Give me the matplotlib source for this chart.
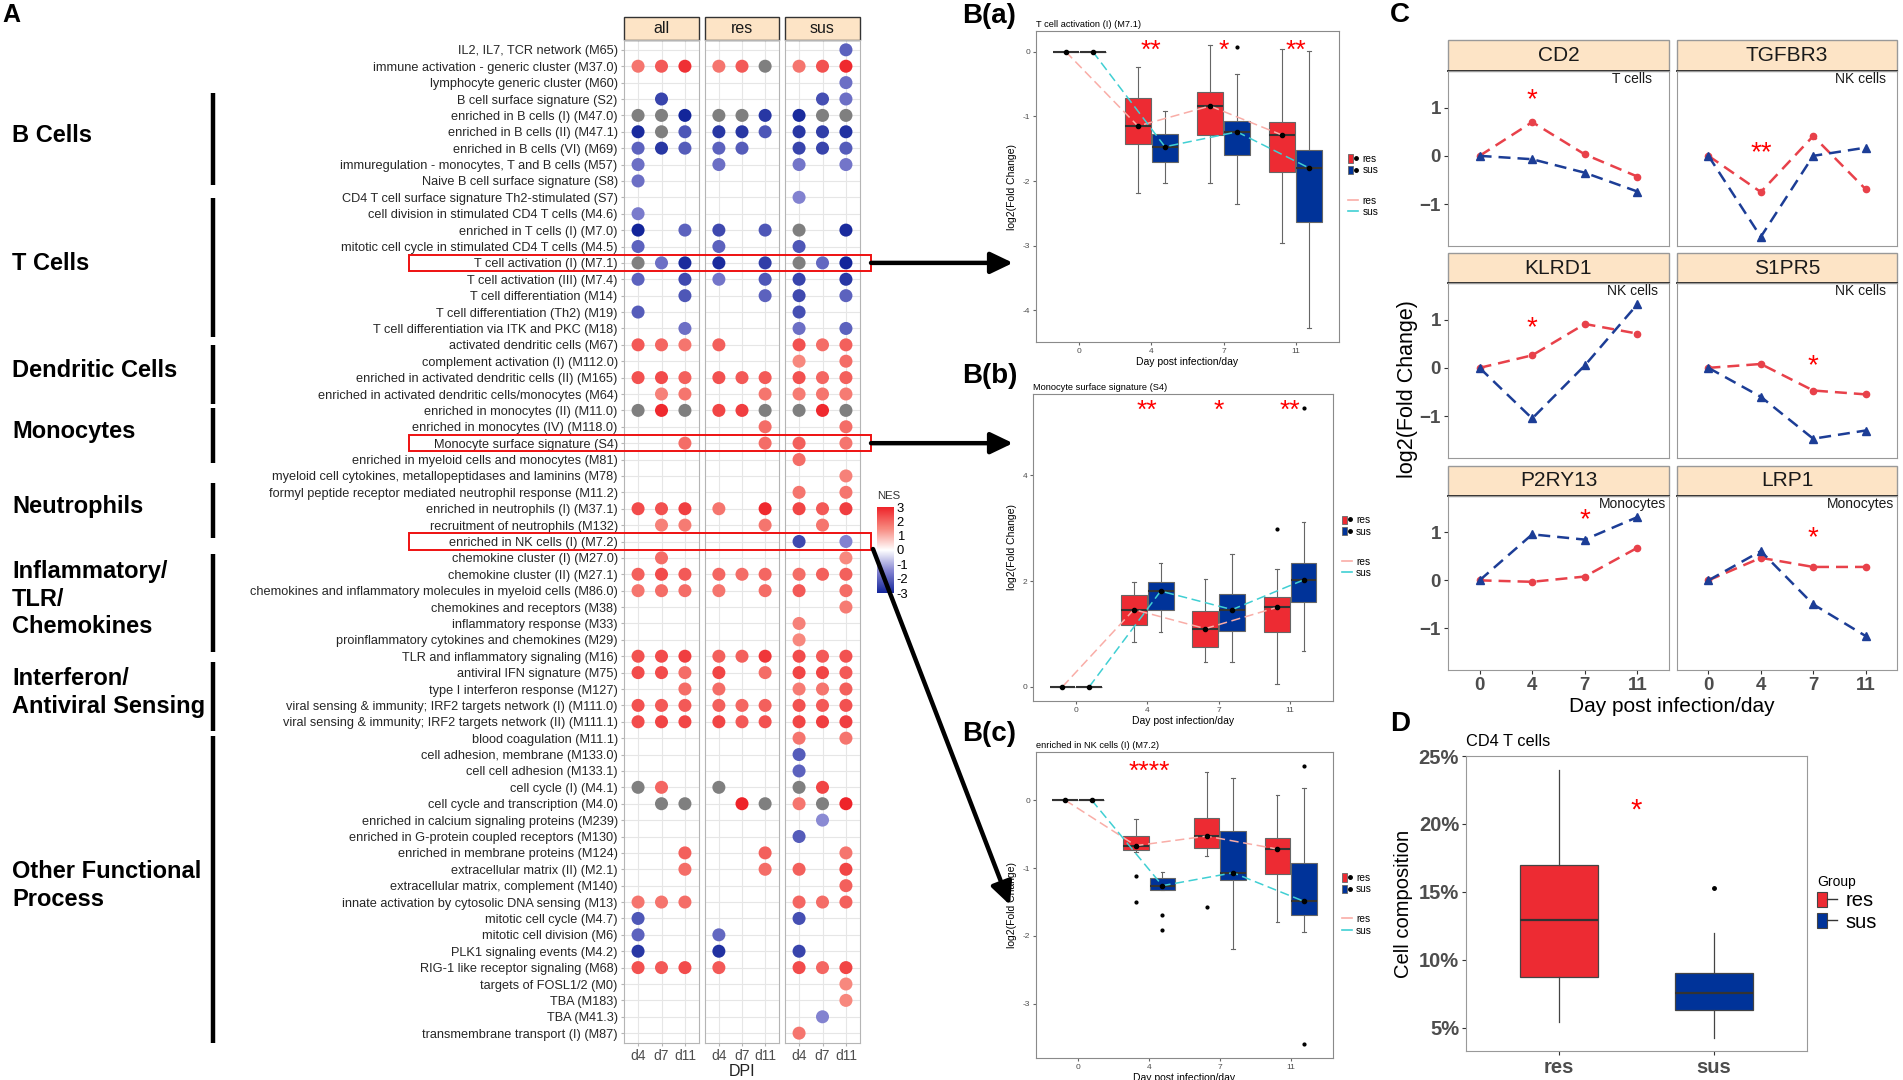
import numpy as np
import matplotlib
matplotlib.use('Agg')
import matplotlib.pyplot as plt
from matplotlib.colors import LinearSegmentedColormap, Normalize
from matplotlib.cm import ScalarMappable
from matplotlib.patches import Rectangle, Patch
from matplotlib.lines import Line2D
from matplotlib.legend_handler import HandlerTuple

plt.rcParams['font.family'] = ['Liberation Sans', 'DejaVu Sans']

W, H = 1903, 1080

# ---------------- panel A: NES of blood transcription modules ----------------
N = np.nan          # module not enriched -> no dot
G = 9.9             # NES off the colour scale -> grey dot
NN = (N, N, N)

facets = ['all', 'res', 'sus']
dpi_labels = ['d4', 'd7', 'd11']

modules = [
    "IL2, IL7, TCR network (M65)",
    "immune activation - generic cluster (M37.0)",
    "lymphocyte generic cluster (M60)",
    "B cell surface signature (S2)",
    "enriched in B cells (I) (M47.0)",
    "enriched in B cells (II) (M47.1)",
    "enriched in B cells (VI) (M69)",
    "immuregulation - monocytes, T and B cells (M57)",
    "Naive B cell surface signature (S8)",
    "CD4 T cell surface signature Th2-stimulated (S7)",
    "cell division in stimulated CD4 T cells (M4.6)",
    "enriched in T cells (I) (M7.0)",
    "mitotic cell cycle in stimulated CD4 T cells (M4.5)",
    "T cell activation (I) (M7.1)",
    "T cell activation (III) (M7.4)",
    "T cell differentiation (M14)",
    "T cell differentiation (Th2) (M19)",
    "T cell differentiation via ITK and PKC (M18)",
    "activated dendritic cells (M67)",
    "complement activation (I) (M112.0)",
    "enriched in activated dendritic cells (II) (M165)",
    "enriched in activated dendritic cells/monocytes (M64)",
    "enriched in monocytes (II) (M11.0)",
    "enriched in monocytes (IV) (M118.0)",
    "Monocyte surface signature (S4)",
    "enriched in myeloid cells and monocytes (M81)",
    "myeloid cell cytokines, metallopeptidases and laminins (M78)",
    "formyl peptide receptor mediated neutrophil response (M11.2)",
    "enriched in neutrophils (I) (M37.1)",
    "recruitment of neutrophils (M132)",
    "enriched in NK cells (I) (M7.2)",
    "chemokine cluster (I) (M27.0)",
    "chemokine cluster (II) (M27.1)",
    "chemokines and inflammatory molecules in myeloid cells (M86.0)",
    "chemokines and receptors (M38)",
    "inflammatory response (M33)",
    "proinflammatory cytokines and chemokines (M29)",
    "TLR and inflammatory signaling (M16)",
    "antiviral IFN signature (M75)",
    "type I interferon response (M127)",
    "viral sensing & immunity; IRF2 targets network (I) (M111.0)",
    "viral sensing & immunity; IRF2 targets network (II) (M111.1)",
    "blood coagulation (M11.1)",
    "cell adhesion, membrane (M133.0)",
    "cell cell adhesion (M133.1)",
    "cell cycle (I) (M4.1)",
    "cell cycle and transcription (M4.0)",
    "enriched in calcium signaling proteins (M239)",
    "enriched in G-protein coupled receptors (M130)",
    "enriched in membrane proteins (M124)",
    "extracellular matrix (II) (M2.1)",
    "extracellular matrix, complement (M140)",
    "innate activation by cytosolic DNA sensing (M13)",
    "mitotic cell cycle (M4.7)",
    "mitotic cell division (M6)",
    "PLK1 signaling events (M4.2)",
    "RIG-1 like receptor signaling (M68)",
    "targets of FOSL1/2 (M0)",
    "TBA (M183)",
    "TBA (M41.3)",
    "transmembrane transport (I) (M87)",
]

# columns: d4, d7, d11
nes_all = [
    NN, (1.8, 2.2, 2.8), NN, (N, -2.5, N), (G, G, -3.0), (-2.9, G, -2.2),
    (-2.0, -2.7, -2.1), (-1.8, N, N), (-1.8, N, N), NN, (-1.6, N, N),
    (-3.0, N, -2.0), (-2.0, N, N), (G, -1.8, -2.9), (-2.0, N, -2.4),
    (N, N, -2.2), (-2.1, N, N), (N, N, -1.8), (2.2, 2.0, 1.8), NN,
    (2.3, 2.4, 2.1), (N, 1.6, 1.8), (G, 2.9, G), NN, (N, N, 1.9), NN, NN, NN,
    (2.4, 2.3, 2.6), (N, 1.6, 1.7), NN, (N, 1.9, N), (2.1, 2.4, 2.2),
    (1.8, 1.9, 1.9), NN, NN, NN, (2.3, 2.4, 2.6), (2.4, 2.4, 1.9), (N, N, 1.9),
    (2.3, 2.2, 2.2), (2.4, 2.5, 2.5), NN, NN, NN, (G, 2.0, N), (N, G, G),
    NN, NN, (N, N, 2.1), (N, N, 1.9), NN, (1.8, 1.8, 1.9), (-2.2, N, N),
    (-2.0, N, N), (-2.7, N, N), (2.3, 2.2, 2.4), NN, NN, NN, NN,
]
nes_res = [
    NN, (1.8, 2.2, G), NN, NN, (G, G, -2.7), (-2.7, -2.7, -2.2),
    (-2.0, -2.1, N), (-1.8, N, N), NN, NN, NN,
    (-2.4, N, -2.2), (-2.0, N, N), (-2.9, N, -2.6), (-1.7, N, -2.2),
    (N, N, -2.0), NN, NN, (2.1, N, N), NN,
    (2.3, 2.2, 2.2), (N, N, 1.8), (2.5, 2.6, G), (N, N, 1.9), (N, N, 1.9), NN, NN, NN,
    (1.8, N, 2.9), (N, N, 1.8), NN, NN, (2.0, 1.9, 2.0),
    (1.8, N, 1.9), NN, NN, NN, (2.1, 2.1, 2.7), (2.5, N, 1.9), (1.9, N, N),
    (2.1, 2.0, 2.1), (2.5, 2.2, 2.3), NN, NN, NN, (G, N, N), (N, 3.0, G),
    NN, NN, (N, N, 2.1), (N, N, 1.9), NN, NN, NN,
    (-1.9, N, N), (-2.8, N, N), (2.2, N, N), NN, NN, NN, NN,
]
nes_sus = [
    (N, N, -2.0), (1.8, 2.3, 2.9), (N, N, -1.8), (N, -2.3, -1.8), (-2.9, G, G),
    (-2.7, -2.6, -2.8), (-2.5, -2.5, -2.1), (-1.7, N, -1.7), NN, (-1.5, N, N), NN,
    (G, N, -2.9), (-2.2, N, N), (G, -1.9, -3.0), (-2.5, N, -2.7),
    (-2.4, N, -2.0), (-2.3, N, N), (-1.8, N, -2.0), (2.3, 1.9, 2.1), (1.5, N, 1.9),
    (2.3, 2.0, 2.1), (1.7, 1.8, 1.7), (G, 2.9, G), (N, N, 1.9), (2.1, N, 1.8),
    (1.9, N, N), (N, N, 1.6), (1.8, N, 1.8),
    (2.5, 2.2, 2.6), (N, 1.8, N), (-2.4, N, -1.5), (N, N, 1.5), (1.9, 2.1, 2.1),
    (2.2, N, 1.9), (N, N, 1.7), (1.6, N, N), (1.5, N, N), (2.4, 2.2, 2.3),
    (2.5, 2.5, 2.2), (1.7, 1.8, 2.1),
    (2.3, 2.2, 2.3), (2.5, 2.6, 2.6), (1.8, N, 1.8), (-2.1, N, N), (-2.0, N, N),
    (G, 2.5, N), (1.8, G, 3.0),
    (N, -1.4, N), (-2.1, N, N), (N, N, 1.8), (2.1, N, 2.5), (N, N, 2.1),
    (2.0, 1.9, 2.1), (-2.3, N, N),
    NN, (-2.5, N, N), (2.4, 2.0, 2.5), (N, N, 1.5), (N, N, 1.5), (N, -1.5, N),
    (1.8, N, N),
]

group_labels = ['B Cells', 'T Cells', 'Dendritic Cells', 'Monocytes', 'Neutrophils',
                'Inflammatory/\nTLR/\nChemokines', 'Interferon/\nAntiviral Sensing',
                'Other Functional\nProcess']
group_spans = [(93, 185), (198, 337), (345, 404), (408, 463), (483, 538),
               (554, 652), (662, 731), (736, 1043)]
boxed_rows = [14, 25, 31]

# ---------------- panel B: module scores per day ----------------
days = ['0', '4', '7', '11']
# (whisker low, q1, median, q3, whisker high)
ba_res = [(0, 0, 0, 0, 0), (-2.19, -1.43, -1.15, -0.71, -0.23),
          (-2.03, -1.29, -0.84, -0.62, 0.11), (-2.96, -1.86, -1.29, -1.08, 0.04)]
ba_sus = [(0, 0, 0, 0, 0), (-2.03, -1.71, -1.47, -1.28, -0.92),
          (-2.35, -1.60, -1.24, -1.07, -0.34), (-4.28, -2.64, -1.80, -1.52, 0.01)]
ba_res_out = [[], [], [], []]
ba_sus_out = [[], [], [0.08], []]
ba_stars = ['', '**', '*', '**']

bb_res = [(0, 0, 0, 0, 0), (0.84, 1.17, 1.46, 1.73, 1.99),
          (0.47, 0.75, 1.10, 1.44, 2.03), (0.06, 1.03, 1.50, 1.70, 2.23)]
bb_sus = [(0, 0, 0, 0, 0), (1.04, 1.45, 1.81, 1.99, 2.35),
          (0.47, 1.05, 1.46, 1.75, 2.51), (0.68, 1.60, 2.02, 2.35, 3.11)]
bb_res_out = [[], [], [], [2.98]]
bb_sus_out = [[], [], [], [5.28]]
bb_stars = ['', '**', '*', '**']

bc_res = [(0, 0, 0, 0, 0), (-0.77, -0.74, -0.67, -0.53, -0.28),
          (-0.83, -0.70, -0.53, -0.26, 0.41), (-1.80, -1.09, -0.72, -0.56, 0.07)]
bc_sus = [(0, 0, 0, 0, 0), (-1.33, -1.33, -1.26, -1.15, -1.06),
          (-2.19, -1.18, -1.07, -0.45, 0.32), (-1.94, -1.69, -1.49, -0.92, 0.18)]
bc_res_out = [[], [-1.12, -1.50], [-1.58], []]
bc_sus_out = [[], [-1.69, -1.92], [], [0.51, -3.60]]
bc_stars = ['', '****', '', '']

# ---------------- panel C: single genes ----------------
genes = ['CD2', 'TGFBR3', 'KLRD1', 'S1PR5', 'P2RY13', 'LRP1']
cell_types = ['T cells', 'NK cells', 'NK cells', 'NK cells', 'Monocytes', 'Monocytes']
c_res = [[0, 0.70, 0.03, -0.43], [0, -0.75, 0.41, -0.69], [0, 0.26, 0.91, 0.71],
         [0, 0.08, -0.47, -0.55], [0, -0.03, 0.08, 0.68], [0, 0.47, 0.28, 0.28]]
c_sus = [[0, -0.07, -0.35, -0.74], [0, -1.68, 0.0, 0.17], [0, -1.05, 0.05, 1.32],
         [0, -0.60, -1.47, -1.30], [0, 0.96, 0.85, 1.32], [0, 0.61, -0.50, -1.16]]
c_stars = ['*', '**', '*', '*', '*', '*']
c_star_day = [1, 1, 1, 2, 2, 2]
c_star_y = [1.29, 0.19, 0.95, 0.16, 1.38, 1.02]

# ---------------- panel D: CD4 T cell composition ----------------
d_groups = ['res', 'sus']
d_res = (5.44, 8.73, 12.94, 17.0, 24.0)
d_sus = (4.29, 6.32, 7.55, 9.02, 12.0)
d_sus_out = [15.3]

RED = '#ED2B33'
BLUE = '#003399'
PINK = '#F9ADA7'
CYAN = '#40CFD3'
PEACH = '#FDE4C6'
C_RED = '#E8414A'
C_BLUE = '#1C3D96'


def px_rect(x0, y0, x1, y1):
    return [x0 / W, 1 - y1 / H, (x1 - x0) / W, (y1 - y0) / H]


fig = plt.figure(figsize=(W / 100, H / 100), dpi=100)

# ---- panel A ----
A_X = [(624, 699), (705, 779), (785, 860)]
A_Y0, A_Y1, A_STRIP = 40, 1043, 17
nrow = len(modules)
ROW_H = (A_Y1 - A_Y0) / (nrow + 0.2)

cmap = LinearSegmentedColormap.from_list(
    'nes', [(0, '#13259a'), (0.25, '#8282d0'), (0.5, '#ffffff'),
            (0.75, '#f7897f'), (1, '#ee2329')])
cmap.set_over('#7f7f7f')
cmap.set_under('#7f7f7f')
norm = Normalize(-3, 3)

for k, (name, vals) in enumerate(zip(facets, (nes_all, nes_res, nes_sus))):
    ax = fig.add_axes(px_rect(A_X[k][0], A_Y0, A_X[k][1], A_Y1))
    v = np.array(vals, dtype=float)
    r, c = np.nonzero(~np.isnan(v))
    ax.scatter(c + 1, r + 1, c=v[r, c], cmap=cmap, norm=norm, s=88,
               linewidths=0, zorder=3)
    ax.set_xlim(0.4, 3.6)
    ax.set_ylim(nrow + 0.6, 0.4)
    ax.set_xticks([1, 2, 3], dpi_labels)
    ax.set_yticks(np.arange(1, nrow + 1))
    ax.grid(True, color='#e6e6e6', lw=0.8)
    ax.set_axisbelow(True)
    for s in ax.spines.values():
        s.set_color('#b5b5b5')
        s.set_linewidth(0.8)
    ax.tick_params(axis='x', length=2.5, color='#b5b5b5', labelsize=10,
                   labelcolor='#4d4d4d', pad=1.5)
    if k == 0:
        ax.set_yticklabels(modules, fontsize=9.2, color='#262626')
        ax.tick_params(axis='y', length=2.5, color='#b5b5b5', pad=2)
    else:
        ax.tick_params(axis='y', length=0, labelleft=False)
    sh = (A_Y0 - A_STRIP) / (A_Y1 - A_Y0)
    ax.add_patch(Rectangle((0, 1), 1, sh, transform=ax.transAxes, clip_on=False,
                           fc=PEACH, ec='#333333', lw=1))
    ax.text(0.5, 1 + sh / 2, name, transform=ax.transAxes, ha='center',
            va='center', fontsize=11.5, color='#1a1a1a')

fig.text(742 / W, 1 - 1071 / H, 'DPI', ha='center', va='center',
         fontsize=11.5, color='#222222')

cax = fig.add_axes(px_rect(877, 507, 894, 593))
cb = fig.colorbar(ScalarMappable(norm=norm, cmap=cmap), cax=cax,
                  ticks=[-3, -2, -1, 0, 1, 2, 3])
cb.outline.set_visible(False)
cb.ax.set_yticklabels([str(t) for t in [-3, -2, -1, 0, 1, 2, 3]])
cax.tick_params(length=0, labelsize=9.4, pad=2)


# ---- panel B ----
def box_panel(rect, title, res, sus, res_out, sus_out, stars, star_y, ylim, yticks):
    ax = fig.add_axes(px_rect(*rect))
    pos = np.arange(1, len(days) + 1)
    for stats, outs, off, fc, lc in ((res, res_out, -0.1875, RED, PINK),
                                     (sus, sus_out, 0.1875, BLUE, CYAN)):
        bx = [dict(whislo=s[0], q1=s[1], med=s[2], q3=s[3], whishi=s[4], fliers=o)
              for s, o in zip(stats, outs)]
        ax.bxp(bx, positions=pos + off, widths=0.36, patch_artist=True,
               capwidths=0.05, manage_ticks=False,
               boxprops=dict(facecolor=fc, edgecolor='#666666', lw=0.8),
               whiskerprops=dict(color='#666666', lw=0.8),
               capprops=dict(color='#666666', lw=0.8),
               medianprops=dict(color='#333333', lw=1.5),
               flierprops=dict(marker='o', ms=2, mfc='k', mec='k'))
        meds = [s[2] for s in stats]
        ax.plot(pos + off, meds, ls=(0, (6, 3)), color=lc, lw=1.1, zorder=4)
        ax.plot(pos + off, meds, 'o', color='k', ms=3, zorder=5)
    for i, s in enumerate(stars):
        if s:
            ax.annotate(s, (pos[i], star_y), ha='center', va='center', fontsize=19,
                        color='red', xytext=(0, -4.4), textcoords='offset points')
    ax.set_xlim(0.4, 4.6)
    ax.set_ylim(*ylim)
    ax.set_xticks(pos, days)
    ax.set_yticks(yticks, [str(t) for t in yticks])
    ax.tick_params(length=2, color='#666666', labelsize=6, labelcolor='#4d4d4d', pad=2)
    for sp in ax.spines.values():
        sp.set_color('#8a8a8a')
    ax.set_xlabel('Day post infection/day', fontsize=7.5, labelpad=2)
    ax.set_ylabel('log2(Fold Change)', fontsize=7.5, labelpad=4)
    ax.set_title(title, loc='left', fontsize=6.7, pad=3)

    h_box = [(Patch(fc=RED, ec='#666666', lw=0.6),
              Line2D([], [], marker='o', ls='', color='k', ms=2.5)),
             (Patch(fc=BLUE, ec='#666666', lw=0.6),
              Line2D([], [], marker='o', ls='', color='k', ms=2.5))]
    kw = dict(loc='upper left', frameon=False, fontsize=7.3, handlelength=1.0,
              handleheight=0.9, handletextpad=0.4, labelspacing=0.15,
              borderaxespad=0, borderpad=0)
    leg1 = ax.legend(h_box, ['res', 'sus'], bbox_to_anchor=(1.03, 0.605),
                     handler_map={tuple: HandlerTuple(ndivide=None)}, **kw)
    ax.add_artist(leg1)
    ax.legend([Line2D([], [], color=PINK, lw=1.2), Line2D([], [], color=CYAN, lw=1.2)],
              ['res', 'sus'], bbox_to_anchor=(1.03, 0.47), **kw)
    return ax


box_panel((1036, 31, 1339, 342), 'T cell activation (I) (M7.1)', ba_res, ba_sus,
          ba_res_out, ba_sus_out, ba_stars, 0.10, (-4.49, 0.32), [0, -1, -2, -3, -4])
box_panel((1033, 394, 1333, 701), 'Monocyte surface signature (S4)', bb_res, bb_sus,
          bb_res_out, bb_sus_out, bb_stars, 5.34, (-0.27, 5.54), [0, 2, 4])
box_panel((1036, 752, 1333, 1058), 'enriched in NK cells (I) (M7.2)', bc_res, bc_sus,
          bc_res_out, bc_sus_out, bc_stars, 0.51, (-3.80, 0.71), [0, -1, -2, -3])

# ---- panel C ----
C_COLS = [(1448, 1669), (1677, 1897)]
C_ROWS = [(40, 71, 246), (253, 283, 458), (466, 496, 670)]
cpos = np.arange(1, len(days) + 1)
for g, gene in enumerate(genes):
    r, ci = divmod(g, 2)
    x0, x1 = C_COLS[ci]
    s0, p0, p1 = C_ROWS[r]
    ax = fig.add_axes(px_rect(x0, p0, x1, p1))
    ax.plot(cpos, c_res[g], ls=(0, (4.8, 2.8)), color=C_RED, lw=1.8,
            marker='o', ms=4.5)
    ax.plot(cpos, c_sus[g], ls=(0, (4.8, 2.8)), color=C_BLUE, lw=1.8,
            marker='^', ms=5.5)
    ax.annotate(c_stars[g], (cpos[c_star_day[g]], c_star_y[g]), ha='center',
                va='center', fontsize=20, color='red', xytext=(0, -4.6),
                textcoords='offset points')
    ax.text(3.9, 1.6, cell_types[g], ha='center', va='center', fontsize=10,
            color='#1a1a1a')
    ax.set_xlim(0.4, 4.6)
    ax.set_ylim(-1.87, 1.76)
    ax.set_xticks(cpos, days)
    ax.set_yticks([-1, 0, 1], ['\u22121', '0', '1'])
    ax.tick_params(length=3, color='#333333', labelsize=13.5, labelcolor='#4d4d4d',
                   left=(ci == 0), labelleft=(ci == 0),
                   bottom=(r == 2), labelbottom=(r == 2), pad=2)
    for lab in ax.get_xticklabels() + ax.get_yticklabels():
        lab.set_fontweight('bold')
    for sp in ax.spines.values():
        sp.set_color('#999999')
    sh = (p0 - s0) / (p1 - p0)
    ax.add_patch(Rectangle((0, 1), 1, sh, transform=ax.transAxes, clip_on=False,
                           fc=PEACH, ec='#999999', lw=1))
    ax.plot([0, 1], [1, 1], transform=ax.transAxes, color='#222222', lw=1.3,
            clip_on=False)
    ax.text(0.5, 1 + sh / 2, gene, transform=ax.transAxes, ha='center',
            va='center', fontsize=15, color='#1a1a1a')

fig.text(1407 / W, 1 - 389 / H, 'log2(Fold Change)', rotation=90, ha='center',
         va='center', fontsize=15.5)
fig.text(1672 / W, 1 - 707 / H, 'Day post infection/day', ha='center',
         va='center', fontsize=15)

# ---- panel D ----
axd = fig.add_axes(px_rect(1466, 756, 1807, 1051))
dbx = [dict(whislo=s[0], q1=s[1], med=s[2], q3=s[3], whishi=s[4], fliers=o)
       for s, o in zip((d_res, d_sus), ([], d_sus_out))]
bp = axd.bxp(dbx, positions=[1, 2], widths=0.5, patch_artist=True, showcaps=False,
             manage_ticks=False,
             boxprops=dict(edgecolor='#444444', lw=0.9),
             whiskerprops=dict(color='#444444', lw=0.9),
             medianprops=dict(color='#333333', lw=1.6),
             flierprops=dict(marker='o', ms=2.5, mfc='k', mec='k'))
for patch, fc in zip(bp['boxes'], (RED, BLUE)):
    patch.set_facecolor(fc)
axd.annotate('*', (1.5, 21.5), ha='center', va='center', fontsize=21, color='red',
             xytext=(0, -4.8), textcoords='offset points')
axd.set_xlim(0.4, 2.6)
axd.set_ylim(3.3, 25.0)
axd.set_xticks([1, 2], d_groups)
axd.set_yticks([5, 10, 15, 20, 25], ['5%', '10%', '15%', '20%', '25%'])
axd.tick_params(length=3, color='#333333', labelsize=14.5, labelcolor='#4d4d4d', pad=2)
for lab in axd.get_xticklabels() + axd.get_yticklabels():
    lab.set_fontweight('bold')
for sp in axd.spines.values():
    sp.set_color('#999999')
axd.set_ylabel('Cell composition', fontsize=14.5, labelpad=4)
axd.set_title('CD4 T cells', loc='left', fontsize=11.8, pad=7)
d_handles = [(Patch(fc=RED, ec='#444444', lw=0.8), Line2D([], [], color='#333333', lw=1)),
             (Patch(fc=BLUE, ec='#444444', lw=0.8), Line2D([], [], color='#333333', lw=1))]
dleg = axd.legend(d_handles, d_groups, title='Group', loc='center left',
                  bbox_to_anchor=(1.03, 0.5), frameon=False, fontsize=14.5,
                  title_fontsize=10, handlelength=1.0, handleheight=0.8,
                  handletextpad=0.4, labelspacing=0.1, borderpad=0,
                  borderaxespad=0,
                  handler_map={tuple: HandlerTuple(ndivide=None)})
dleg._legend_box.align = 'left'

# ---- overlay: panel letters, group bars, highlight boxes, arrows ----
ov = fig.add_axes([0, 0, 1, 1], zorder=10)
ov.set_xlim(0, W)
ov.set_ylim(H, 0)
ov.axis('off')


def row_y(i):
    return A_Y0 + (i - 0.4) * ROW_H


for lab, (y0, y1) in zip(group_labels, group_spans):
    ov.plot([213, 213], [y0, y1], color='black', lw=3.2, solid_capstyle='butt')
    ov.text(12, (y0 + y1) / 2 - 4, lab, ha='left', va='center', fontsize=17,
            fontweight='bold', linespacing=1.27)

for i in boxed_rows:
    ov.add_patch(Rectangle((409, row_y(i) - ROW_H / 2), 871 - 409, ROW_H,
                           fc='none', ec='#ee1111', lw=1.4))

arrow_kw = dict(arrowstyle='-|>,head_length=0.75,head_width=0.36', lw=3.2,
                color='black', shrinkA=0, shrinkB=0, mutation_scale=18)
ov.annotate('', xy=(1013, row_y(14)), xytext=(871, row_y(14)), arrowprops=arrow_kw)
ov.annotate('', xy=(1013, row_y(25)), xytext=(871, row_y(25)), arrowprops=arrow_kw)
ov.annotate('', xy=(1010, 905), xytext=(873, 549), arrowprops=arrow_kw)

ov.text(877, 496, 'NES', ha='left', va='center', fontsize=8.2, color='#333333')
ov.text(2, 15, 'A', ha='left', va='center', fontsize=18, fontweight='bold')
for lab, (x, y) in zip(['B(a)', 'B(b)', 'B(c)', 'C', 'D'],
                       [(962, 16), (962, 376), (962, 734), (1390, 15), (1390, 724)]):
    ov.text(x, y, lab, ha='left', va='center', fontsize=20, fontweight='bold')

fig.savefig('out.png', dpi=100)
